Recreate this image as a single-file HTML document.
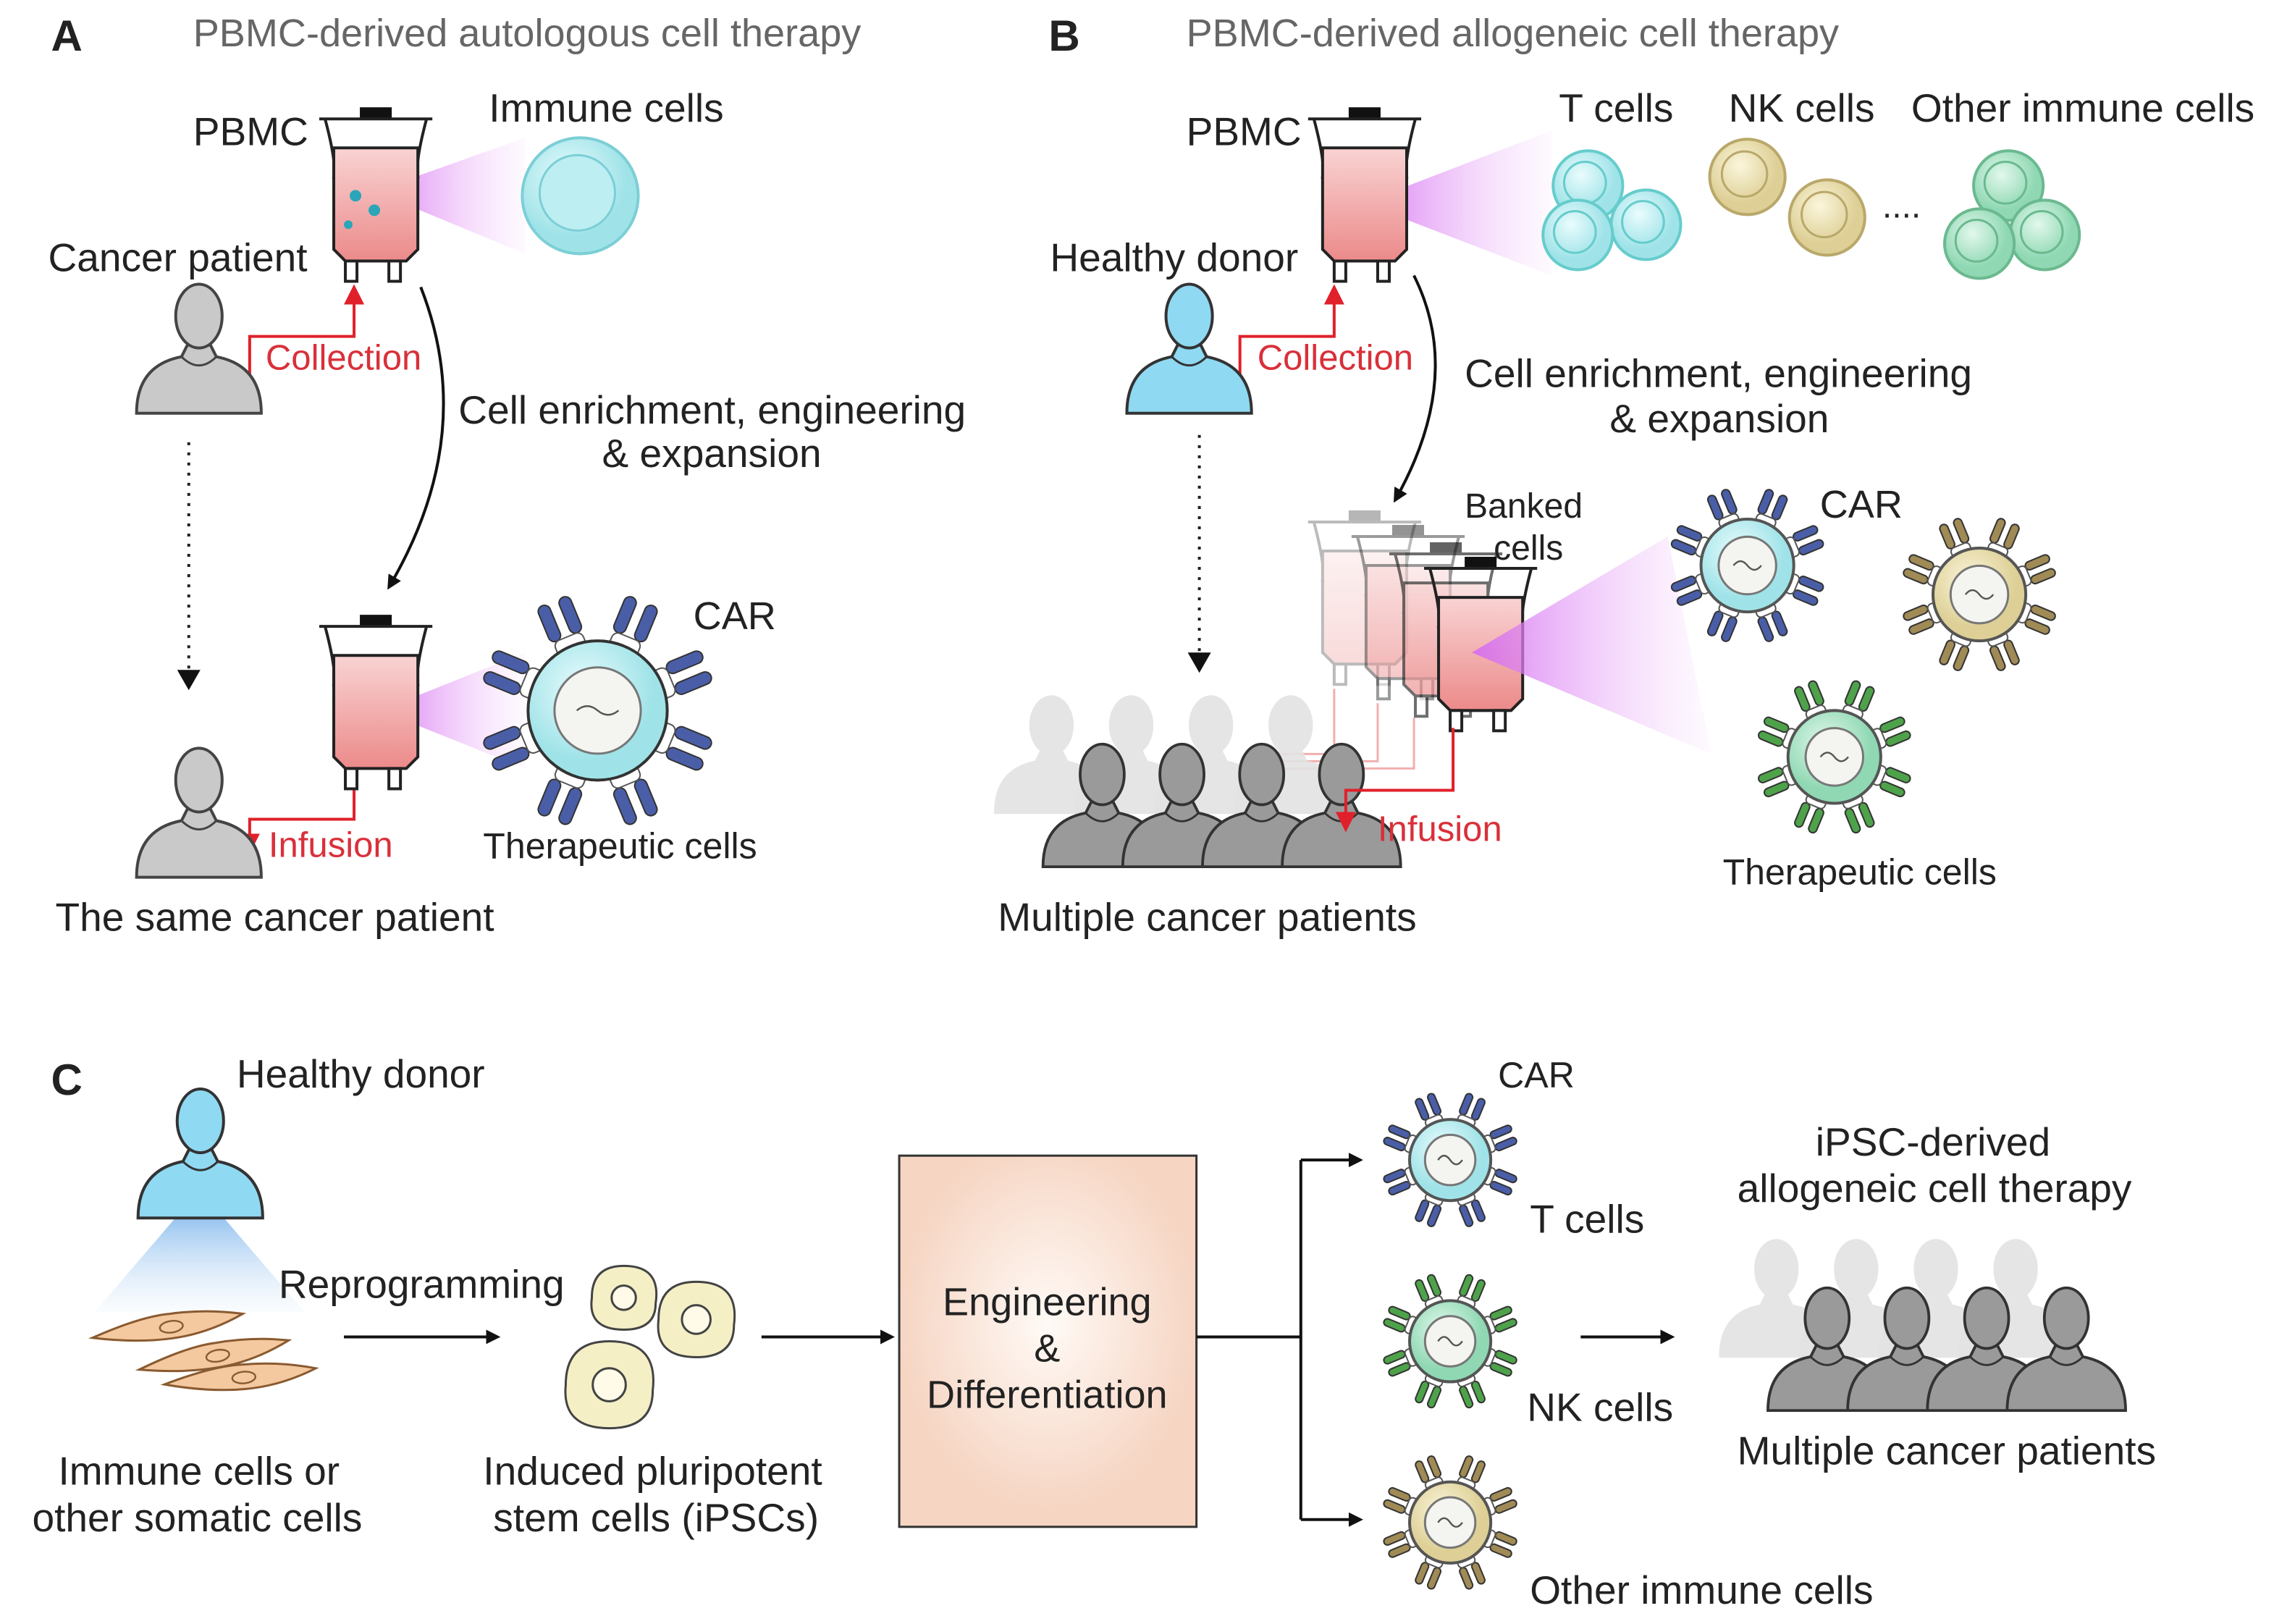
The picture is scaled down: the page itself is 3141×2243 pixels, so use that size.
<!DOCTYPE html>
<html><head><meta charset="utf-8"><style>
html,body{margin:0;padding:0;background:#fff;}
svg{display:block;}
text{font-family:"Liberation Sans",sans-serif;fill:#222;}
</style></head><body>
<svg id="s" width="3141" height="2243" viewBox="0 0 1568 1120" xmlns="http://www.w3.org/2000/svg">
<defs>
<radialGradient id="cyan" cx="40%" cy="35%"><stop offset="0" stop-color="#eafcfd"/><stop offset="1" stop-color="#9fe3e8"/></radialGradient>
<radialGradient id="tan" cx="40%" cy="35%"><stop offset="0" stop-color="#fbf6dc"/><stop offset="1" stop-color="#ddcf95"/></radialGradient>
<radialGradient id="green" cx="40%" cy="35%"><stop offset="0" stop-color="#e2f8ec"/><stop offset="1" stop-color="#8fd8b3"/></radialGradient>
<radialGradient id="box" cx="50%" cy="45%"><stop offset="0" stop-color="#fffaf6"/><stop offset="1" stop-color="#f6d5c3"/></radialGradient>
<linearGradient id="beam" x1="0" y1="0" x2="1" y2="0"><stop offset="0" stop-color="#d46cf0" stop-opacity="0.9"/><stop offset="1" stop-color="#f3c9fb" stop-opacity="0.1"/></linearGradient>
<linearGradient id="cone" x1="0" y1="0" x2="0" y2="1"><stop offset="0" stop-color="#7fb6ec" stop-opacity="0.9"/><stop offset="1" stop-color="#cfe4f8" stop-opacity="0.1"/></linearGradient>
<linearGradient id="pink" x1="0" y1="0" x2="0" y2="1"><stop offset="0" stop-color="#f9d3d3"/><stop offset="1" stop-color="#ec8a8a"/></linearGradient>
<marker id="ak" markerWidth="10" markerHeight="10" refX="8" refY="5" orient="auto" markerUnits="userSpaceOnUse"><path d="M0,0 L10,5 L0,10 Z" fill="#111"/></marker>
<marker id="ar" markerWidth="14" markerHeight="14" refX="10" refY="7" orient="auto" markerUnits="userSpaceOnUse"><path d="M0,0 L14,7 L0,14 Z" fill="#e0202a"/></marker>
<g id="bag">
<rect x="28" y="-8" width="22" height="8" fill="#111"/>
<path d="M0,0 L78,0 M4,0 Q12,30 10,40 L68,40 Q66,30 74,0" fill="none" stroke="#222" stroke-width="2"/>
<path d="M10,20 L68,20 L68,90 L60,98 L18,98 L10,90 Z" fill="url(#pink)" stroke="#222" stroke-width="2"/>
<rect x="18" y="98" width="8" height="14" fill="#fff" stroke="#222" stroke-width="2"/>
<rect x="48" y="98" width="8" height="14" fill="#fff" stroke="#222" stroke-width="2"/>
</g>
</defs>

<!-- ===== A ===== -->
<text x="35" y="35" font-size="30" font-weight="bold" fill="#333">A</text>
<text x="133" y="32" font-size="27" style="fill:#666">PBMC-derived autologous cell therapy</text>
<text x="133" y="100" font-size="27.5">PBMC</text>
<text x="337" y="84" font-size="27.5">Immune cells</text>
<polygon points="258,132 362,95 362,175" fill="url(#beam)"/>
<use href="#bag" x="220" y="82"/>
<circle cx="245" cy="135" r="4" fill="#2aa6b8"/><circle cx="258" cy="145" r="4" fill="#2aa6b8"/><circle cx="240" cy="155" r="3" fill="#2aa6b8"/>
<circle cx="400" cy="135" r="40" fill="url(#cyan)" stroke="#7ccfd6" stroke-width="2"/>
<circle cx="398" cy="133" r="26" fill="#bdeef2" stroke="#7ccfd6" stroke-width="1.5"/>
<text x="33" y="187" font-size="27.5">Cancer patient</text>
<path d="M172,262 L172,232 L244,232 L244,200" fill="none" stroke="#e0202a" stroke-width="2" marker-end="url(#ar)"/>
<text x="183" y="255" font-size="24.5" style="fill:#d9303a">Collection</text>
<path d="M290,198 Q330,300 268,405" fill="none" stroke="#111" stroke-width="2" marker-end="url(#ak)"/>
<text x="316" y="292" font-size="27.5">Cell enrichment, engineering</text>
<text x="415" y="322" font-size="27.5">&amp; expansion</text>
<line x1="130" y1="305" x2="130" y2="462" stroke="#222" stroke-width="2" stroke-dasharray="2,5"/>
<polygon points="122,462 138,462 130,476" fill="#111"/>
<polygon points="262,490 362,450 362,530" fill="url(#beam)"/>
<use href="#bag" x="220" y="432"/>
<path d="M244,545 L244,565 L172,565 L172,585" fill="none" stroke="#e0202a" stroke-width="2" marker-end="url(#ar)"/>
<text x="185" y="591" font-size="24.5" style="fill:#d9303a">Infusion</text>
<text x="478" y="434" font-size="27">CAR</text>
<text x="333" y="592" font-size="25">Therapeutic cells</text>
<text x="38" y="642" font-size="27.5">The same cancer patient</text>

<!-- ===== B ===== -->
<text x="723" y="35" font-size="30" font-weight="bold" fill="#333">B</text>
<text x="818" y="32" font-size="27" style="fill:#666">PBMC-derived allogeneic cell therapy</text>
<text x="818" y="100" font-size="27.5">PBMC</text>
<polygon points="940,140 1070,90 1070,190" fill="url(#beam)"/>
<use href="#bag" x="902" y="82"/>
<text x="724" y="187" font-size="27.5">Healthy donor</text>
<path d="M855,262 L855,232 L920,232 L920,200" fill="none" stroke="#e0202a" stroke-width="2" marker-end="url(#ar)"/>
<text x="867" y="255" font-size="24.5" style="fill:#d9303a">Collection</text>
<text x="1075" y="84" font-size="27.5">T cells</text>
<text x="1192" y="84" font-size="27.5">NK cells</text>
<text x="1318" y="84" font-size="27.5">Other immune cells</text>
<text x="1298" y="150" font-size="24">....</text>
<path d="M975,190 Q1010,260 962,345" fill="none" stroke="#111" stroke-width="2" marker-end="url(#ak)"/>
<text x="1010" y="267" font-size="27.5">Cell enrichment, engineering</text>
<text x="1110" y="298" font-size="27.5">&amp; expansion</text>
<text x="1010" y="357" font-size="24">Banked</text>
<text x="1030" y="386" font-size="24">cells</text>
<line x1="827" y1="300" x2="827" y2="450" stroke="#222" stroke-width="2" stroke-dasharray="2,5"/>
<polygon points="819,450 835,450 827,464" fill="#111"/>
<g id="banked"></g>
<polygon points="1015,450 1150,370 1180,520" fill="url(#beam)"/>
<g id="crowdB"></g>
<path d="M1002,502 L1002,545 L928,545 L928,570" fill="none" stroke="#e0202a" stroke-width="2" marker-end="url(#ar)"/>
<text x="950" y="580" font-size="24.5" style="fill:#d9303a">Infusion</text>
<text x="1255" y="357" font-size="27">CAR</text>
<text x="1188" y="610" font-size="25">Therapeutic cells</text>
<text x="688" y="642" font-size="27.5">Multiple cancer patients</text>

<!-- ===== C ===== -->
<text x="35" y="755" font-size="30" font-weight="bold" fill="#333">C</text>
<text x="163" y="750" font-size="27.5">Healthy donor</text>
<polygon points="125,835 150,835 210,905 65,905" fill="url(#cone)"/>
<g id="fib"></g>
<text x="192" y="895" font-size="27.5">Reprogramming</text>
<line x1="237" y1="922" x2="343" y2="922" stroke="#111" stroke-width="2" marker-end="url(#ak)"/>
<g id="ipsc"></g>
<line x1="525" y1="922" x2="615" y2="922" stroke="#111" stroke-width="2" marker-end="url(#ak)"/>
<rect x="620" y="797" width="205" height="256" fill="url(#box)" stroke="#333" stroke-width="1.5"/>
<text x="722" y="907" font-size="27" text-anchor="middle">Engineering</text>
<text x="722" y="939" font-size="27" text-anchor="middle">&amp;</text>
<text x="722" y="971" font-size="27" text-anchor="middle">Differentiation</text>
<path d="M825,922 L897,922 M897,800 L897,1048" fill="none" stroke="#111" stroke-width="2"/>
<line x1="897" y1="800" x2="938" y2="800" stroke="#111" stroke-width="2" marker-end="url(#ak)"/>
<line x1="897" y1="1048" x2="938" y2="1048" stroke="#111" stroke-width="2" marker-end="url(#ak)"/>
<text x="1033" y="750" font-size="25">CAR</text>
<text x="1055" y="850" font-size="27.5">T cells</text>
<text x="1053" y="980" font-size="27.5">NK cells</text>
<text x="1055" y="1106" font-size="27.5">Other immune cells</text>
<line x1="1090" y1="922" x2="1153" y2="922" stroke="#111" stroke-width="2" marker-end="url(#ak)"/>
<text x="1252" y="797" font-size="27.5">iPSC-derived</text>
<text x="1198" y="829" font-size="27.5">allogeneic cell therapy</text>
<g id="crowdC"></g>
<text x="1198" y="1010" font-size="27.5">Multiple cancer patients</text>
<text x="40" y="1024" font-size="27.5">Immune cells or</text>
<text x="22" y="1056" font-size="27.5">other somatic cells</text>
<text x="333" y="1024" font-size="27.5">Induced pluripotent</text>
<text x="340" y="1056" font-size="27.5">stem cells (iPSCs)</text>
</svg>
<script>
var NS="http://www.w3.org/2000/svg",S=document.getElementById("s");
function el(t,a,p){var e=document.createElementNS(NS,t);for(var k in a)e.setAttribute(k,a[k]);(p||S).appendChild(e);return e;}
function person(cx,cy,sc,fill,stroke,parent,op){
 var g=el("g",{transform:"translate("+cx+","+cy+") scale("+sc+")",opacity:op||1},parent);
 el("path",{d:"M-43,45 Q-43,12 -12,6 L-8,-2 L8,-2 L12,6 Q43,12 43,45 Z",fill:fill,stroke:stroke,"stroke-width":2},g);
 el("ellipse",{cx:0,cy:-22,rx:16,ry:22,fill:fill,stroke:stroke,"stroke-width":2},g);
 el("path",{d:"M-12,6 Q0,18 12,6",fill:"none",stroke:stroke,"stroke-width":1.5},g);
}
person(137,240,1,"#c9c9c9","#444");
person(137,560,1,"#c9c9c9","#444");
person(820,240,1,"#8fd9f2","#333");
person(138,795,1,"#8fd9f2","#333");
function crowd(x0,y0,par){
 var g=el("g",{},par);
 for(var i=0;i<4;i++)person(x0+25+i*55,y0-35,0.9,"#e3e3e3","#e3e3e3",g,0.9);
 for(var i=0;i<4;i++)person(x0+60+i*55,y0,0.95,"#9a9a9a","#333",g);
}
crowd(700,555,document.getElementById("crowdB"));
crowd(1200,930,document.getElementById("crowdC"));
var bk=document.getElementById("banked");
[[902,360,0.3],[932,370,0.45],[958,382,0.65],[982,392,1]].forEach(function(b){
 var u=el("use",{href:"#bag",x:b[0],y:b[1],opacity:b[2]},bk);
 u.setAttributeNS("http://www.w3.org/1999/xlink","href","#bag");
});
[[920,475],[950,485],[975,495]].forEach(function(p,i){
 el("path",{d:"M"+p[0]+","+p[1]+" L"+p[0]+","+(520+i*5)+" L880,"+(520+i*5),fill:"none",stroke:"#f2b0b0","stroke-width":1.5},bk);
});
function car(cx,cy,r,fill,stroke,rc,n){
 var g=el("g",{});
 for(var i=0;i<n;i++){
  var a=i*360/n+22.5, rr=r+r*0.42;
  var gg=el("g",{transform:"translate("+cx+","+cy+") rotate("+a+") translate("+rr+",0)"},g);
  var w=r*0.55,h=r*0.18;
  el("rect",{x:-w/2,y:-h*1.4,width:w,height:h,rx:h/2,fill:rc,stroke:"#333","stroke-width":1},gg);
  el("rect",{x:-w/2,y:h*0.4,width:w,height:h,rx:h/2,fill:rc,stroke:"#333","stroke-width":1},gg);
  el("rect",{x:-w/2-w*0.7,y:-h*1.2,width:w*0.7,height:h*2.4,rx:h/2,fill:"#fff",stroke:"#555","stroke-width":1},gg);
 }
 el("circle",{cx:cx,cy:cy,r:r,fill:fill,stroke:stroke,"stroke-width":2},g);
 el("circle",{cx:cx,cy:cy,r:r*0.62,fill:"#f4f4f0",stroke:"#777","stroke-width":1.5},g);
 el("path",{d:"M"+(cx-r*0.3)+","+cy+" q"+(r*0.15)+",-6 "+(r*0.3)+",0 t"+(r*0.3)+",0",fill:"none",stroke:"#555","stroke-width":1.2},g);
}
car(412,490,48,"url(#cyan)","#333","#4a5ea8",8);
car(1205,390,32,"url(#cyan)","#555","#4a5ea8",8);
car(1365,410,32,"url(#tan)","#555","#a08a55",8);
car(1265,522,32,"url(#green)","#555","#4ea24a",8);
car(1000,800,28,"url(#cyan)","#555","#4a5ea8",8);
car(1000,925,28,"url(#green)","#555","#4ea24a",8);
car(1000,1050,28,"url(#tan)","#555","#a08a55",8);
function cl(cx,cy,r,f,s){el("circle",{cx:cx,cy:cy,r:r,fill:f,stroke:s,"stroke-width":2});el("circle",{cx:cx-2,cy:cy-2,r:r*0.6,fill:"none",stroke:s,"stroke-width":1.5});}
cl(1095,128,24,"url(#cyan)","#6cc");cl(1135,155,24,"url(#cyan)","#6cc");cl(1088,162,24,"url(#cyan)","#6cc");
cl(1205,122,26,"url(#tan)","#b9a86a");cl(1260,150,26,"url(#tan)","#b9a86a");
cl(1385,128,24,"url(#green)","#6bb98f");cl(1410,162,24,"url(#green)","#6bb98f");cl(1365,168,24,"url(#green)","#6bb98f");
var fb=document.getElementById("fib");
[[118,915,-8],[150,935,-10],[168,950,-5]].forEach(function(f){
 var g=el("g",{transform:"translate("+f[0]+","+f[1]+") rotate("+f[2]+")"},fb);
 el("path",{d:"M-55,0 Q-20,-10 0,-9 Q25,-9 50,-2 Q25,8 0,8 Q-25,8 -55,0 Z",fill:"#f4c9a0",stroke:"#8a5a30","stroke-width":1.5},g);
 el("ellipse",{cx:0,cy:0,rx:8,ry:4,fill:"none",stroke:"#8a5a30","stroke-width":1.2},g);
});
var ip=document.getElementById("ipsc");
[[430,895,22],[480,910,26],[420,955,30]].forEach(function(c){
 el("path",{d:"M"+(c[0]-c[2])+","+c[1]+" Q"+(c[0]-c[2])+","+(c[1]-c[2])+" "+c[0]+","+(c[1]-c[2])+" Q"+(c[0]+c[2]+4)+","+(c[1]-c[2])+" "+(c[0]+c[2])+","+(c[1]+4)+" Q"+(c[0]+c[2])+","+(c[1]+c[2])+" "+c[0]+","+(c[1]+c[2])+" Q"+(c[0]-c[2]-3)+","+(c[1]+c[2])+" "+(c[0]-c[2])+","+c[1]+"Z",fill:"#f5efc6",stroke:"#444","stroke-width":1.5},ip);
 el("circle",{cx:c[0],cy:c[1],r:c[2]*0.38,fill:"#fffbe8",stroke:"#444","stroke-width":1.5},ip);
});
</script>
</body></html>
